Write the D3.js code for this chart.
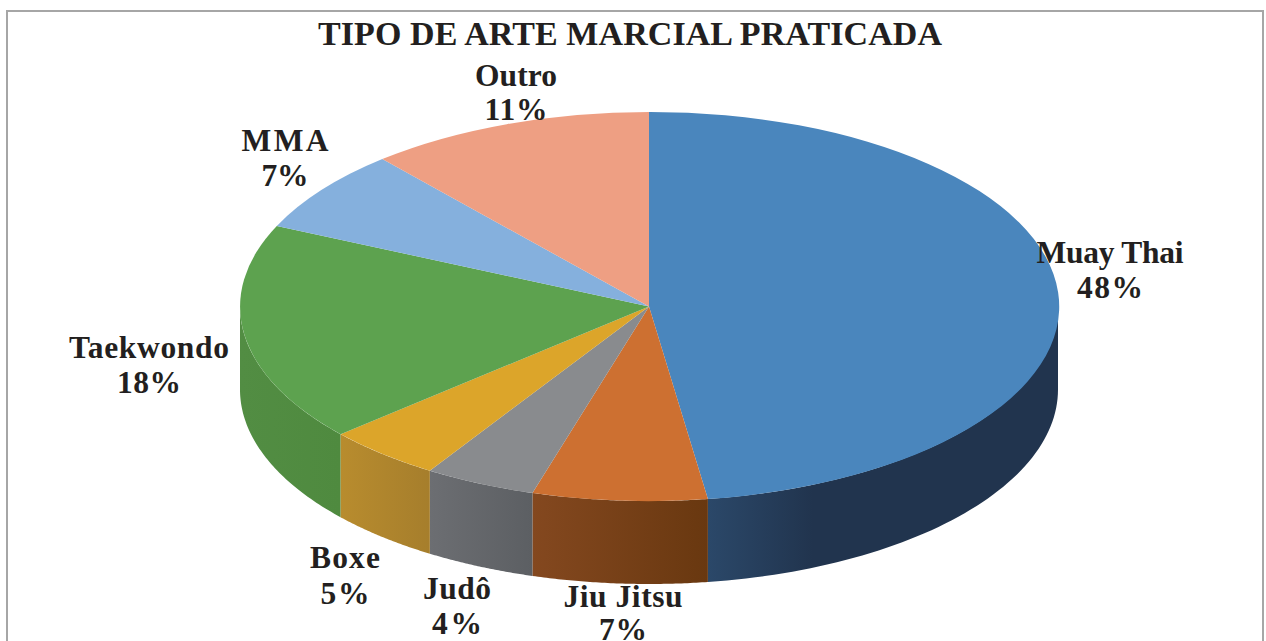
<!DOCTYPE html>
<html><head><meta charset="utf-8">
<script src="https://cdn.jsdelivr.net/npm/d3@7"></script>
<style>html,body{margin:0;padding:0;background:#fff;overflow:hidden}svg{display:block}
text{font-family:"Liberation Serif",serif;font-weight:700;fill:#231f20;text-anchor:middle}</style>
</head><body><svg id="c" width="1266" height="641"></svg>
<script>
const chartTitle = "TIPO DE ARTE MARCIAL PRATICADA";
const categories = ["Muay Thai","Jiu Jitsu","Judô","Boxe","Taekwondo","MMA","Outro"];
const values = [47.7,6.9,4.4,4.6,18.2,6.9,11.3];
const topColors = ["#4a86bd","#cd7031","#898b8e","#dca52a","#5da24f","#85b0dd","#ee9f83"];
const sideStart = ["#2b4869","#84481f","#6c6e72","#b88c2e","#528d43","#6a8db0","#be7f68"];
const sideEnd   = ["#21344e","#693810","#5c5f63","#a67e2c","#4f8a3f","#6a8db0","#be7f68"];

const W=1266,H=641, cx=649, cy=306.5, rx=409, ry=194.5, depth=83;
const labelFont=31.5;
// x, baseline 1, baseline 2, width of line 1, width of line 2
const labelLayout = {
 "Muay Thai":[1110,263,298,147,66],"Jiu Jitsu":[623,607,640,119,48],"Judô":[457,599,634,68,50],"Boxe":[345,568,604,70,49],
 "Taekwondo":[149,358,393,160,64],"MMA":[285,151,186,87,47],"Outro":[516,86,120,82,63]};

const svg=d3.select("#c");
svg.append("path").attr("d",`M7 ${H} V11 H1263 V${H}`).attr("fill","none").attr("stroke","#a6a6a6").attr("stroke-width",2);

const pie=d3.pie().sort(null).value(d=>d.v).startAngle(0).endAngle(2*Math.PI);
const slices=pie(categories.map((c,i)=>({c,v:values[i],i})));
const px=d3.scaleLinear().domain([-1,1]).range([cx-rx,cx+rx]);
const py=d3.scaleLinear().domain([-1,1]).range([cy-ry,cy+ry]);
const defs=svg.append("defs");
const line=d3.line();

// side walls (front half only)
const lo=Math.PI/2, hi=3*Math.PI/2;
slices.forEach(s=>{
  const a0=Math.max(s.startAngle,lo), a1=Math.min(s.endAngle,hi);
  if(a1<=a0) return;
  const angles=d3.range(0,61).map(k=>a0+(a1-a0)*k/60);
  const edge=angles.map(a=>[px(Math.sin(a)),py(-Math.cos(a))]);
  const pts=edge.concat(edge.slice().reverse().map(p=>[p[0],p[1]+depth]));
  const id="g"+s.data.i;
  const x0=d3.min(edge,p=>p[0]),x1=d3.max(edge,p=>p[0]);
  const g=defs.append("linearGradient").attr("id",id).attr("gradientUnits","userSpaceOnUse")
    .attr("x1",x0).attr("x2",x0+(x1-x0)*(s.data.i===0?0.3:1)).attr("y1",0).attr("y2",0);
  g.append("stop").attr("offset",0).attr("stop-color",sideStart[s.data.i]);
  g.append("stop").attr("offset",1).attr("stop-color",sideEnd[s.data.i]);
  svg.append("path").attr("d",line(pts)+"Z").attr("fill",`url(#${id})`);
});

// top face
const arc=d3.arc().innerRadius(0).outerRadius(1);
const face=svg.append("g").attr("transform",`translate(${cx},${cy}) scale(${rx},${ry})`);
face.selectAll("path").data(slices).join("path")
  .attr("d",arc).attr("fill",d=>topColors[d.data.i]);

// text
svg.append("text").attr("x",630).attr("y",45).attr("font-size",34)
  .attr("textLength",624).attr("lengthAdjust","spacing").text(chartTitle);
slices.forEach(s=>{
  const [x,y1,y2,w1,w2]=labelLayout[s.data.c];
  svg.append("text").attr("x",x).attr("y",y1).attr("font-size",labelFont)
    .attr("textLength",w1).attr("lengthAdjust","spacing").text(s.data.c);
  svg.append("text").attr("x",x).attr("y",y2).attr("font-size",labelFont)
    .attr("textLength",w2).attr("lengthAdjust","spacing").text(Math.round(s.data.v)+"%");
});
</script></body></html>
